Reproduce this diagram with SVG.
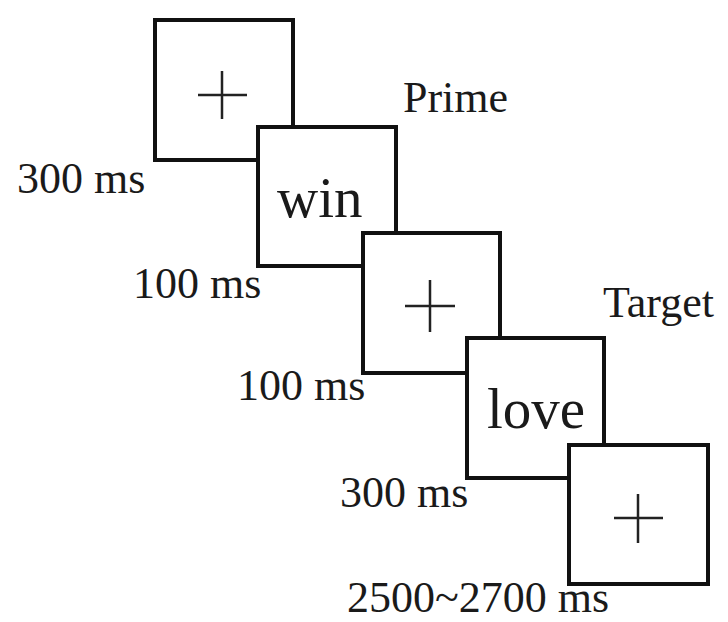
<svg xmlns="http://www.w3.org/2000/svg" width="728" height="622" viewBox="0 0 728 622">
<style>
.box{fill:#fff;stroke:#111;stroke-width:4}
.cross{stroke:#222;stroke-width:2.5;fill:none}
.word{font-family:"Liberation Serif","Times New Roman",serif;font-size:57px;fill:#1a1a1a}
.lbl{font-family:"Liberation Serif","Times New Roman",serif;font-size:44px;fill:#1a1a1a}
</style>
<rect width="728" height="622" fill="#fff"/>
<g id="frame1">
<rect class="box" x="155" y="20" width="138" height="140"/>
<path class="cross" d="M198 95H247M222 71V119"/>
</g>
<g id="frame2">
<rect class="box" x="258" y="127" width="138" height="139"/>
<text class="word" x="277" y="217">win</text>
</g>
<g id="frame3">
<rect class="box" x="363" y="233" width="137" height="140"/>
<path class="cross" d="M405 306H455M430 280V332"/>
</g>
<g id="frame4">
<rect class="box" x="467" y="338" width="137" height="140"/>
<text class="word" x="487" y="428">love</text>
</g>
<g id="frame5">
<rect class="box" x="569" y="445" width="139" height="139"/>
<path class="cross" d="M614 518H663M638 494V543"/>
</g>
<g id="labels">
<text class="lbl" x="403" y="112" font-size="41">Prime</text>
<text class="lbl" x="603" y="317" font-size="45">Target</text>
<text class="lbl" x="17" y="193">300 ms</text>
<text class="lbl" x="133" y="298">100 ms</text>
<text class="lbl" x="237" y="400">100 ms</text>
<text class="lbl" x="340" y="507">300 ms</text>
<text class="lbl" x="347" y="612">2500~2700 ms</text>
</g>
</svg>
